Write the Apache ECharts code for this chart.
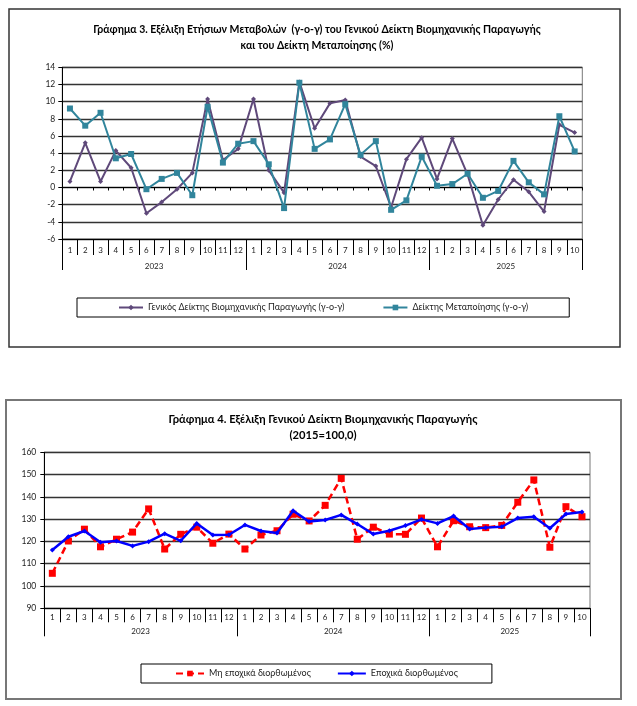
<!DOCTYPE html>
<html>
<head>
<meta charset="utf-8">
<script src="https://cdn.jsdelivr.net/npm/echarts@6/dist/echarts.min.js"></script>
<style>html,body{margin:0;padding:0;background:#fff}#c{width:637px;height:706px}</style>
</head>
<body>
<div id="c"></div>
<script>
// ---- data ----
const years = ['2023', '2024', '2025'];
const monthsPerYear = [12, 12, 10];
const yoyTicks = [-6, -4, -2, 0, 2, 4, 6, 8, 10, 12, 14];
const indexTicks = [90, 100, 110, 120, 130, 140, 150, 160];

const generalYoY = [0.7, 5.2, 0.7, 4.3, 2.3, -3.0, -1.7, -0.2, 1.7, 10.3, 3.2, 4.5,
  10.3, 2.0, -0.6, 12.3, 6.9, 9.8, 10.2, 3.6, 2.5, -2.3, 3.3, 5.8,
  1.0, 5.7, 1.5, -4.4, -1.4, 0.9, -0.5, -2.8, 7.3, 6.4];
const manufYoY = [9.2, 7.2, 8.7, 3.4, 3.9, -0.2, 1.0, 1.7, -0.9, 9.4, 2.9, 5.1,
  5.4, 2.7, -2.4, 12.2, 4.5, 5.6, 9.7, 3.8, 5.4, -2.6, -1.5, 3.6,
  0.2, 0.4, 1.6, -1.2, -0.4, 3.1, 0.6, -0.8, 8.3, 4.2];
const nonSeasonal = [105.7, 120.2, 125.5, 117.6, 121.0, 124.2, 134.6, 116.6, 123.2, 126.4, 119.2, 123.3,
  116.6, 122.9, 124.8, 132.2, 129.2, 136.2, 148.3, 121.0, 126.4, 123.3, 123.2, 130.5,
  117.6, 129.3, 126.6, 126.2, 127.2, 137.6, 147.6, 117.4, 135.6, 131.1];
const seasonal = [116.2, 122.1, 124.7, 119.6, 120.2, 118.0, 119.9, 123.5, 120.3, 128.1, 122.9, 123.0,
  127.4, 124.7, 123.8, 133.8, 128.9, 129.6, 131.9, 127.8, 123.3, 124.8, 127.1, 129.9,
  128.1, 131.4, 125.6, 126.2, 126.6, 130.5, 131.1, 125.9, 132.3, 133.2];

const names = ['Γενικός Δείκτης Βιομηχανικής Παραγωγής (γ-ο-γ)', 'Δείκτης Μεταποίησης (γ-ο-γ)',
  'Μη εποχικά διορθωμένος', 'Εποχικά διορθωμένος'];
const title1 = 'Γράφημα 3. Εξέλιξη Ετήσιων Μεταβολών  (γ-ο-γ) του Γενικού Δείκτη Βιομηχανικής Παραγωγής\nκαι του Δείκτη Μεταποίησης (%)';
const title2 = 'Γράφημα 4. Εξέλιξη Γενικού Δείκτη Βιομηχανικής Παραγωγής\n(2015=100,0)';

// ---- derived ----
const months = [];
monthsPerYear.forEach(n => { for (let m = 1; m <= n; m++) months.push(String(m)); });
const total = months.length;
const yearBounds = [0];
monthsPerYear.forEach(n => yearBounds.push(yearBounds[yearBounds.length - 1] + n));
const yearMids = years.map((y, i) => (yearBounds[i] + yearBounds[i + 1]) / 2);

const FONT = 'Lato, sans-serif';
const gridLine = { lineStyle: { color: '#333', width: 1.3 } };

function monthAxis(gridIndex, onZero, tickLen, margin, showLabel) {
  return {
    type: 'category', gridIndex: gridIndex, data: months, position: 'bottom',
    boundaryGap: true,
    axisLine: { show: true, onZero: onZero, lineStyle: { color: '#000', width: 1 } },
    axisTick: { show: true, interval: 0, length: tickLen, lineStyle: { color: '#000', width: 1 } },
    axisLabel: { show: showLabel, interval: 0, fontSize: 8, margin: margin, color: '#222', fontFamily: FONT },
    splitLine: { show: false }
  };
}
function yearAxis(gridIndex, tickLen, margin) {
  return {
    type: 'value', gridIndex: gridIndex, min: 0, max: total, position: 'bottom',
    axisLine: { show: false, onZero: false },
    axisTick: { show: true, customValues: yearBounds, length: tickLen, lineStyle: { color: '#000', width: 1 } },
    axisLabel: { show: true, customValues: yearMids, fontSize: 8, margin: margin, color: '#222', fontFamily: FONT,
      formatter: v => { const i = yearMids.indexOf(v); return i >= 0 ? years[i] : ''; } },
    splitLine: { show: false }
  };
}

const chart = echarts.init(document.getElementById('c'), null, { renderer: 'canvas' });
const option = {
  backgroundColor: '#fff',
  animation: false,
  textStyle: { fontFamily: FONT },
  title: [
    { text: title1, left: 312, top: 17, textAlign: 'center',
      textStyle: { fontSize: 10.5, fontWeight: 'bold', color: '#000', lineHeight: 16, fontFamily: FONT } },
    { text: title2, left: 318, top: 406, textAlign: 'center',
      textStyle: { fontSize: 11.2, fontWeight: 'bold', color: '#000', lineHeight: 16, fontFamily: FONT } }
  ],
  graphic: [
    { type: 'rect', shape: { x: 9, y: 9, width: 611, height: 338 }, style: { fill: 'none', stroke: '#333', lineWidth: 1.5 }, silent: true },
    { type: 'rect', shape: { x: 6, y: 400, width: 615, height: 299 }, style: { fill: 'none', stroke: '#777', lineWidth: 2 }, silent: true }
  ],
  grid: [
    { left: 62.3, top: 67.3, width: 520, height: 171.7, show: true, borderColor: '#777', borderWidth: 1, backgroundColor: 'transparent' },
    { left: 44.3, top: 452.3, width: 545.7, height: 156, show: true, borderColor: '#777', borderWidth: 1, backgroundColor: 'transparent' }
  ],
  xAxis: [
    monthAxis(0, true, 3, 0, false),
    monthAxis(0, false, 16, 7, true),
    yearAxis(0, 31, 23),
    monthAxis(1, false, 14, 5, true),
    yearAxis(1, 28, 19)
  ],
  yAxis: [
    { type: 'value', gridIndex: 0, min: yoyTicks[0], max: yoyTicks[yoyTicks.length - 1], interval: yoyTicks[1] - yoyTicks[0],
      axisLine: { show: true, onZero: false, lineStyle: { color: '#000' } },
      axisTick: { show: true, length: 4, lineStyle: { color: '#000' } },
      axisLabel: { fontSize: 8.5, margin: 7, color: '#222', fontFamily: FONT },
      splitLine: gridLine },
    { type: 'value', gridIndex: 1, min: indexTicks[0], max: indexTicks[indexTicks.length - 1], interval: indexTicks[1] - indexTicks[0],
      axisLine: { show: true, onZero: false, lineStyle: { color: '#000' } },
      axisTick: { show: true, length: 4, lineStyle: { color: '#000' } },
      axisLabel: { fontSize: 8.5, margin: 8, color: '#222', fontFamily: FONT },
      splitLine: gridLine }
  ],
  legend: [
    { data: [names[0], names[1]], left: 77, top: 298, orient: 'horizontal',
      itemWidth: 24, itemHeight: 7, itemGap: 38, padding: [5, 41],
      borderColor: '#000', borderWidth: 1,
      textStyle: { fontSize: 9, color: '#222', fontFamily: FONT } },
    { data: [names[2], names[3]], left: 141, top: 664, orient: 'horizontal',
      itemWidth: 28, itemHeight: 7, itemGap: 26, padding: [5, 34],
      borderColor: '#000', borderWidth: 1,
      textStyle: { fontSize: 9, color: '#222', fontFamily: FONT } }
  ],
  series: [
    { name: names[0], type: 'line', xAxisIndex: 1, yAxisIndex: 0, data: generalYoY,
      symbol: 'diamond', symbolSize: 5, showAllSymbol: true,
      lineStyle: { color: '#5F497A', width: 2 }, itemStyle: { color: '#5F497A' }, z: 3 },
    { name: names[1], type: 'line', xAxisIndex: 1, yAxisIndex: 0, data: manufYoY,
      symbol: 'rect', symbolSize: 6, showAllSymbol: true,
      lineStyle: { color: '#31859C', width: 2 }, itemStyle: { color: '#31859C' }, z: 4 },
    { name: names[2], type: 'line', xAxisIndex: 3, yAxisIndex: 1, data: nonSeasonal,
      symbol: 'rect', symbolSize: 7, showAllSymbol: true,
      lineStyle: { color: '#FF0000', width: 2.5, type: [7, 4] }, itemStyle: { color: '#FF0000' }, z: 3 },
    { name: names[3], type: 'line', xAxisIndex: 3, yAxisIndex: 1, data: seasonal,
      symbol: 'diamond', symbolSize: 5, showAllSymbol: true,
      lineStyle: { color: '#0000FF', width: 2.5 }, itemStyle: { color: '#0000FF' }, z: 4 }
  ]
};
chart.setOption(option);
</script>
</body>
</html>
